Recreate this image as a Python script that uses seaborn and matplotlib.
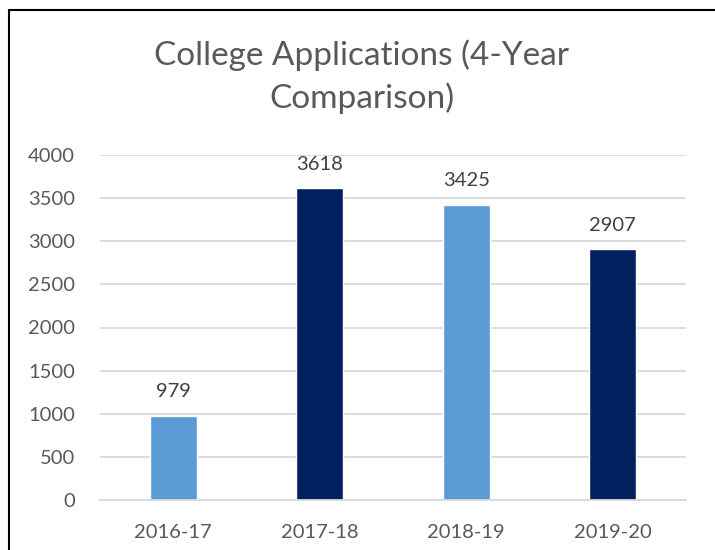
import matplotlib
matplotlib.use("Agg")
import matplotlib.pyplot as plt
import seaborn as sns
import pandas as pd
from matplotlib.lines import Line2D

years = ["2016-17", "2017-18", "2018-19", "2019-20"]
applications = [979, 3618, 3425, 2907]
bar_colors = ["#5B9BD5", "#002060", "#5B9BD5", "#002060"]
y_ticks = [0, 500, 1000, 1500, 2000, 2500, 3000, 3500, 4000]

sns.set_theme(style="white")
plt.rcParams['font.family'] = ['Lato', 'DejaVu Sans']

df = pd.DataFrame({"year": years, "apps": applications})

fig = plt.figure(figsize=(7.15, 5.5), dpi=100)
ax = fig.add_axes([100/715, 1-500/550, 586/715, 345/550])

sns.barplot(data=df, x="year", y="apps", hue="year", palette=bar_colors,
            width=0.32, legend=False, ax=ax, saturation=1)

ax.set_ylim(0, 4000)
ax.set_xlim(-0.5, 3.5)
ax.set_yticks(y_ticks)
ax.set_yticklabels([str(t) for t in y_ticks])
ax.yaxis.grid(True, color="#D9D9D9", linewidth=1.3)
ax.set_axisbelow(True)
for s in ["top", "right", "left"]:
    ax.spines[s].set_visible(False)
ax.spines["bottom"].set_color("#D9D9D9")
ax.spines["bottom"].set_linewidth(1.3)
ax.tick_params(axis="both", length=0, labelsize=14.5, colors="#595959")
ax.tick_params(axis="y", pad=18)
ax.tick_params(axis="x", pad=17)
ax.set_xlabel("")
ax.set_ylabel("")

for i, v in enumerate(applications):
    ax.annotate(str(v), (i, v), xytext=(0, 11), textcoords="offset points",
                ha="center", va="bottom", fontsize=14.5, color="#404040")

fig.text(0.506, 1-77/550, "College Applications (4-Year\nComparison)",
         ha="center", va="center", fontsize=24, color="#595959", linespacing=1.45)

fig.add_artist(Line2D([9/715, 9/715], [0, 1-10/550], transform=fig.transFigure,
                      color="black", linewidth=1.5))
fig.add_artist(Line2D([9/715, 1], [1-10/550, 1-10/550], transform=fig.transFigure,
                      color="black", linewidth=1.5))

fig.savefig("out.png", dpi=100, facecolor="white")
